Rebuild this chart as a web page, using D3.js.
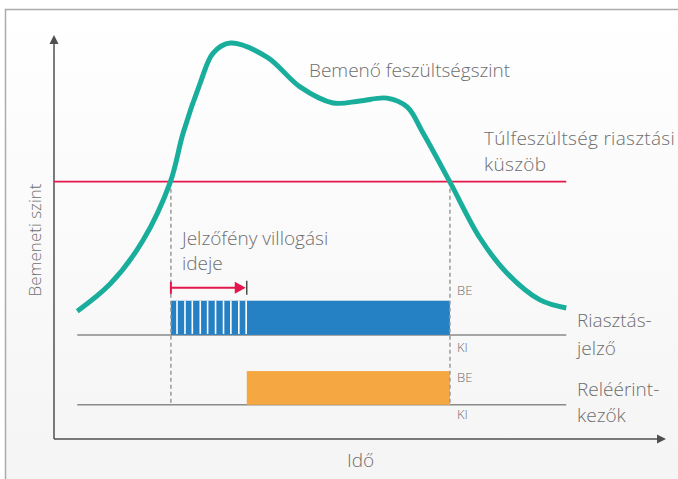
<!DOCTYPE html>
<meta charset="utf-8">
<style>
body { margin: 0; background: #fff; }
svg { display: block; }
text { font-family: "Open Sans", "Noto Sans", sans-serif; font-weight: 300; fill: #6e6e6e; }
</style>
<body>
<svg width="678" height="479"></svg>
</body>
<script src="https://d3js.org/d3.v7.min.js"></script>
<script>

// input level curve (time, level)
var curveTime = [3.8, 9.2, 14.5, 19.0, 21.1, 23.9, 26.0, 28.8, 34.8, 40.2, 45.6, 50.0, 54.4, 57.7, 60.3, 64.7, 69.6, 74.0, 79.4, 83.7];
var curveLevel = [31.8, 38.6, 49.3, 63.9, 76.1, 88.6, 96.0, 98.5, 95.0, 87.6, 83.6, 84.1, 84.8, 82.6, 76.1, 63.9, 50.0, 41.3, 34.6, 32.6];

var threshold = 64;
var tripOn = 19.1, flashEnd = 31.5, tripOff = 64.7;
var blinkGaps = [20.1, 21.4, 22.6, 23.9, 25.1, 26.4, 27.7, 28.9, 30.2, 31.4];

// signal lanes: [baseline level, on level]
var alarmLane = [25.9, 34.4];
var relayLane = [8.5, 16.9];
var laneStart = 3.8, laneEnd = 83.7;
var arrowLevel = 37.6;

var svg = d3.select("svg");

var x = d3.scaleLinear().domain([0, 100]).range([54, 666]);
var y = d3.scaleLinear().domain([0, 100]).range([439, 37]);

// frame with soft gradient
var defs = svg.append("defs");
var grad = defs.append("linearGradient").attr("id", "bg")
    .attr("x1", 0).attr("y1", 0).attr("x2", 0).attr("y2", 1);
grad.append("stop").attr("offset", "0%").attr("stop-color", "#ffffff");
grad.append("stop").attr("offset", "100%").attr("stop-color", "#f5f4f4");

svg.append("rect")
    .attr("x", 5.5).attr("y", 9.5).attr("width", 700).attr("height", 500)
    .attr("fill", "url(#bg)")
    .attr("stroke", "#ababab").attr("stroke-width", 1.5);

// axes
var axisColor = "#4f4f4f";
svg.append("line")
    .attr("x1", x(0)).attr("y1", y(0)).attr("x2", x(0)).attr("y2", y(100) + 6)
    .attr("stroke", axisColor).attr("stroke-width", 1.5);
svg.append("line")
    .attr("x1", x(0)).attr("y1", y(0)).attr("x2", x(100) - 6).attr("y2", y(0))
    .attr("stroke", axisColor).attr("stroke-width", 1.5);
svg.append("path")
    .attr("d", `M${x(0)},${y(100) - 2} l-4.5,9 h9 z`)
    .attr("fill", axisColor);
svg.append("path")
    .attr("d", `M${x(100)},${y(0)} l-9,-4.5 v9 z`)
    .attr("fill", axisColor);

// lane baselines
[alarmLane, relayLane].forEach(l => {
  svg.append("line")
      .attr("x1", x(laneStart)).attr("x2", x(laneEnd))
      .attr("y1", y(l[0])).attr("y2", y(l[0]))
      .attr("stroke", "#8a8a8a").attr("stroke-width", 1.5);
});

// alarm bar (blue) with blinking stripes
svg.append("rect")
    .attr("x", x(tripOn)).attr("width", x(tripOff) - x(tripOn))
    .attr("y", y(alarmLane[1])).attr("height", y(alarmLane[0]) - y(alarmLane[1]))
    .attr("fill", "#2680c4");
svg.append("g").selectAll("line")
  .data(blinkGaps)
  .enter().append("line")
    .attr("x1", d => x(d)).attr("x2", d => x(d))
    .attr("y1", y(alarmLane[1])).attr("y2", y(alarmLane[0]) - 1)
    .attr("stroke", "#fff").attr("stroke-width", 1.6);

// relay bar (orange)
svg.append("rect")
    .attr("x", x(flashEnd)).attr("width", x(tripOff) - x(flashEnd))
    .attr("y", y(relayLane[1])).attr("height", y(relayLane[0]) - y(relayLane[1]))
    .attr("fill", "#f5a842");

// dashed markers
[tripOn, tripOff].forEach(t => {
  svg.append("line")
      .attr("x1", x(t)).attr("x2", x(t))
      .attr("y1", y(threshold)).attr("y2", y(relayLane[0]))
      .attr("stroke", "#9a9a9a").attr("stroke-width", 1.5)
      .attr("stroke-dasharray", "4,3");
});

// threshold
svg.append("line")
    .attr("x1", x(0)).attr("x2", x(laneEnd))
    .attr("y1", y(threshold)).attr("y2", y(threshold))
    .attr("stroke", "#e3174d").attr("stroke-width", 1.8);

// input curve
var pts = curveTime.map((t, i) => [t, curveLevel[i]]);
svg.append("path")
    .datum(pts)
    .attr("fill", "none")
    .attr("stroke", "#19ad9c")
    .attr("stroke-width", 5)
    .attr("d", d3.line().x(d => x(d[0])).y(d => y(d[1])).curve(d3.curveCatmullRom.alpha(0.5)));

// blink duration arrow
var red = "#e3174d";
svg.append("line")
    .attr("x1", x(tripOn)).attr("x2", x(flashEnd) - 10)
    .attr("y1", y(arrowLevel)).attr("y2", y(arrowLevel))
    .attr("stroke", red).attr("stroke-width", 2);
svg.append("line")
    .attr("x1", x(tripOn)).attr("x2", x(tripOn))
    .attr("y1", y(arrowLevel) - 6).attr("y2", y(arrowLevel) + 6)
    .attr("stroke", red).attr("stroke-width", 2);
svg.append("path")
    .attr("d", `M${x(flashEnd) - 1},${y(arrowLevel)} l-11,-6 v12 z`)
    .attr("fill", red);
svg.append("line")
    .attr("x1", x(flashEnd)).attr("x2", x(flashEnd))
    .attr("y1", y(arrowLevel) - 7).attr("y2", y(arrowLevel) + 7)
    .attr("stroke", "#333").attr("stroke-width", 1.3);

// labels
function label(txt, px, py, size, anchor) {
  return svg.append("text")
      .attr("x", px).attr("y", py)
      .attr("font-size", size)
      .attr("text-anchor", anchor || "start")
      .text(txt);
}
label("Bemenő feszültségszint", 309, 77, 19);
label("Túlfeszültség riasztási", 484, 145, 19).attr("letter-spacing", 0.3);
label("küszöb", 484, 171, 19).attr("letter-spacing", 0.3);
label("Jelzőfény villogási", 182, 245, 19);
label("ideje", 182, 270, 19);
label("Riasztás-", 577, 327, 19);
label("jelző", 577, 355, 19);
label("Reléérint-", 577, 396, 19);
label("kezők", 577, 422, 19);
label("BE", 457, 295, 13);
label("KI", 457, 352, 13);
label("BE", 457, 382, 13);
label("KI", 457, 419, 13);
label("Idő", 347, 467, 19);

svg.append("text")
    .attr("transform", "translate(41,240) rotate(-90)")
    .attr("text-anchor", "middle")
    .attr("font-size", 17)
    .text("Bemeneti szint");

</script>
